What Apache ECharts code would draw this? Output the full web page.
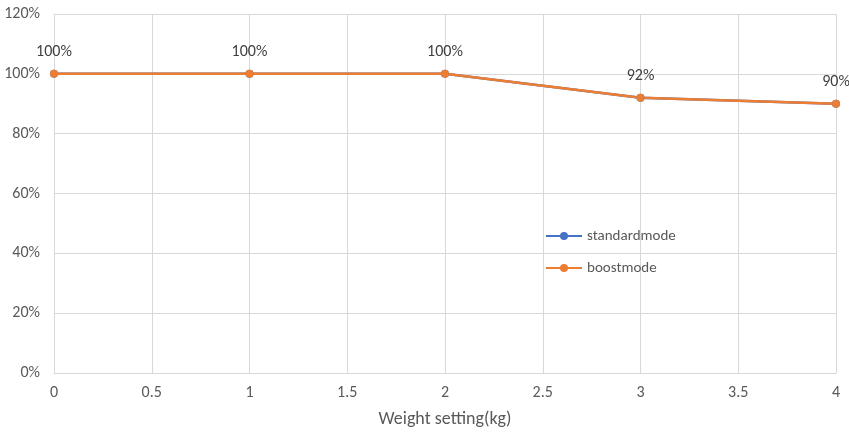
<!DOCTYPE html>
<html><head><meta charset="utf-8">
<script src="https://cdn.jsdelivr.net/npm/echarts@6/dist/echarts.min.js"></script>
<style>html,body{margin:0;padding:0;background:#fff}#c{width:849px;height:432px}</style>
</head><body><div id="c"></div>
<script>
const weights = [0, 1, 2, 3, 4];
const standardmode = [100, 100, 100, 92, 90];
const boostmode = [100, 100, 100, 92, 90];
const seriesNames = ['standardmode', 'boostmode'];
const xName = 'Weight setting(kg)';

const chart = echarts.init(document.getElementById('c'));
const font = 'Calibri, Carlito, Lato, sans-serif';
chart.setOption({
  animation: false,
  textStyle: {fontFamily: font},
  grid: {left: 54, right: 13, top: 14, bottom: 59, containLabel: false, outerBoundsMode: 'none'},
  legend: {
    orient: 'vertical', left: 540, top: 222, itemGap: 14,
    itemWidth: 36, itemHeight: 10,
    textStyle: {color: '#595959', fontSize: 15, fontFamily: font, lineHeight: 18},
    data: seriesNames
  },
  xAxis: {
    type: 'value', min: 0, max: 4, interval: 0.5,
    name: xName, nameLocation: 'middle', nameGap: 37,
    nameTextStyle: {color: '#595959', fontSize: 18},
    axisLine: {show: true, lineStyle: {color: '#d9d9d9'}},
    axisTick: {show: false},
    axisLabel: {color: '#595959', fontSize: 16, margin: 12},
    splitLine: {show: true, lineStyle: {color: '#d9d9d9'}}
  },
  yAxis: {
    type: 'value', min: 0, max: 120, interval: 20,
    axisLine: {show: false}, axisTick: {show: false},
    axisLabel: {color: '#595959', fontSize: 16, formatter: v => v + '%', margin: 14},
    splitLine: {lineStyle: {color: '#d9d9d9'}}
  },
  series: [
    {
      name: seriesNames[0], type: 'line',
      data: weights.map((w, i) => [w, standardmode[i]]),
      symbol: 'circle', symbolSize: 8,
      lineStyle: {width: 2.5, color: '#4472C4'},
      itemStyle: {color: '#4472C4'}
    },
    {
      name: seriesNames[1], type: 'line',
      data: weights.map((w, i) => [w, boostmode[i]]),
      symbol: 'circle', symbolSize: 8,
      lineStyle: {width: 2.5, color: '#ED7D31'},
      itemStyle: {color: '#ED7D31'},
      label: {show: true, position: 'top', distance: 10, formatter: p => p.value[1] + '%',
        color: '#404040', fontSize: 16}
    }
  ]
});
</script></body></html>
